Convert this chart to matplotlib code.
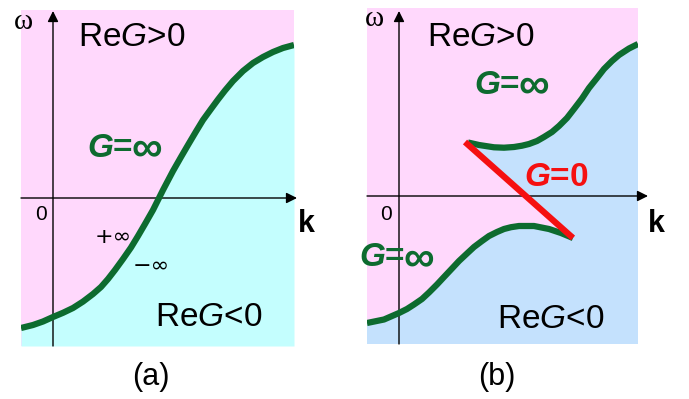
import numpy as np
import matplotlib
matplotlib.use("Agg")
import matplotlib.pyplot as plt

plt.rcParams["font.family"] = ["Liberation Sans", "DejaVu Sans"]
plt.rcParams["mathtext.fontset"] = "custom"
plt.rcParams["mathtext.rm"] = "Liberation Sans"
plt.rcParams["mathtext.it"] = "Liberation Sans:italic"
plt.rcParams["mathtext.bf"] = "Liberation Sans:bold"
plt.rcParams["mathtext.bfit"] = "Liberation Sans:italic:bold"

# ---- dispersion curves (k, omega) ----
# (a) single branch G = inf
k_a = [-0.32, -0.20, -0.10, 0.00, 0.10, 0.20, 0.30, 0.40, 0.48, 0.55, 0.62, 0.70,
       0.78, 0.85, 0.92, 1.00, 1.10, 1.20, 1.28, 1.35, 1.43, 1.50, 1.58, 1.65,
       1.72, 1.80, 1.90, 2.00, 2.10, 2.20, 2.30, 2.41]
w_a = [-1.30, -1.27, -1.235, -1.19, -1.148, -1.10, -1.036, -0.96, -0.89, -0.81,
       -0.72, -0.61, -0.495, -0.38, -0.26, -0.12, 0.08, 0.27, 0.41, 0.53, 0.665,
       0.78, 0.89, 0.985, 1.075, 1.17, 1.27, 1.35, 1.41, 1.46, 1.50, 1.53]

# (b) upper branch G = inf
k_b_up = [0.69, 0.80, 0.95, 1.05, 1.15, 1.23, 1.30, 1.38, 1.45, 1.53, 1.60,
          1.68, 1.75, 1.83, 1.90, 1.98, 2.05, 2.13, 2.20, 2.30, 2.39]
w_b_up = [0.535, 0.51, 0.487, 0.483, 0.49, 0.503, 0.52, 0.55, 0.59, 0.64, 0.70,
          0.78, 0.87, 0.975, 1.08, 1.18, 1.27, 1.35, 1.41, 1.475, 1.52]

# (b) lower branch G = inf
k_b_lo = [-0.32, -0.15, 0.00, 0.08, 0.15, 0.23, 0.30, 0.38, 0.45, 0.53, 0.60,
          0.68, 0.75, 0.83, 0.90, 0.98, 1.05, 1.12, 1.20, 1.35, 1.50, 1.62, 1.74]
w_b_lo = [-1.27, -1.235, -1.17, -1.13, -1.085, -1.03, -0.965, -0.885, -0.81,
          -0.725, -0.65, -0.575, -0.51, -0.45, -0.40, -0.36, -0.33, -0.312,
          -0.30, -0.30, -0.33, -0.37, -0.42]

# (b) G = 0 segment joining the two branches
k_zero = [0.66, 1.74]
w_zero = [0.54, -0.42]

PINK = "#ffd8fc"
CYAN = "#c4fefe"
BLUE = "#c4e1fd"
GREEN = "#0d6b2f"
RED = "#f51010"

XLIM_A = (-0.32, 2.41)
XLIM_B = (-0.32, 2.39)
YLIM = (-1.48, 1.88)

LINE = dict(lw=4.5, solid_capstyle="butt", solid_joinstyle="round")


def setup_axes(ax, xlim):
    ax.set_xlim(*xlim)
    ax.set_ylim(*YLIM)
    ax.set_facecolor(PINK)
    ax.set_xticks([])
    ax.set_yticks([])
    for sp in ax.spines.values():
        sp.set_visible(False)


def draw_axes_arrows(ax, xlim, k_tip, w_tip):
    arrow = dict(arrowstyle="-|>", lw=1.0, color="black", mutation_scale=16,
                 shrinkA=0, shrinkB=0)
    ax.annotate("", xy=(k_tip, 0), xytext=(xlim[0], 0), arrowprops=arrow,
                annotation_clip=False, zorder=2)
    ax.annotate("", xy=(0, w_tip), xytext=(0, YLIM[0]), arrowprops=arrow,
                annotation_clip=False, zorder=2)


def axis_labels(ax, k_pos, w_pos, zero_pos, tag, tag_pos):
    ax.text(*w_pos, "ω", fontsize=21, family="Liberation Serif",
            ha="center", va="center", clip_on=False)
    ax.text(*k_pos, "k", fontsize=22, fontweight="bold",
            ha="center", va="center", clip_on=False)
    ax.text(*zero_pos, "0", fontsize=15, ha="center", va="center")
    ax.text(*tag_pos, tag, fontsize=22, ha="center", va="center", clip_on=False)


def g_label(ax, x, y, rhs, color, big=False):
    """Bold 'G=' followed by the right-hand side (a wide infinity sign or 0)."""
    t = ax.text(x, y, r"$\mathbfit{G}$=", fontsize=24, fontweight="bold",
                color=color, ha="left", va="center", clip_on=False, zorder=5)
    ax.annotate(rhs, xy=(1.0, 0.5), xycoords=t,
                xytext=(-1.5, -1) if big else (0, 0),
                textcoords="offset points", fontsize=31 if big else 24,
                fontweight="bold", color=color, ha="left", va="center",
                zorder=5)


fig = plt.figure(figsize=(6.89, 3.99), dpi=100)
W, H = 689.0, 399.0

# ---------------- panel (a) ----------------
ax1 = fig.add_axes([21 / W, (H - 346) / H, 273 / W, 336 / H])
setup_axes(ax1, XLIM_A)
ax1.fill_between(k_a, w_a, YLIM[0], color=CYAN, lw=0, zorder=1)
draw_axes_arrows(ax1, XLIM_A, 2.44, 1.87)
ax1.plot(k_a, w_a, color=GREEN, zorder=3, **LINE)

ax1.text(0.25, 1.60, r"Re$G$>0", fontsize=24, ha="left", va="center")
ax1.text(1.02, -1.20, r"Re$G$<0", fontsize=24, ha="left", va="center")
g_label(ax1, 0.34, 0.50, "∞", GREEN, big=True)
ax1.text(0.42, -0.39, "+∞", fontsize=16, family="DejaVu Sans",
         ha="left", va="center")
ax1.text(0.80, -0.68, "−∞", fontsize=16, family="DejaVu Sans",
         ha="left", va="center")
axis_labels(ax1, (2.53, -0.26), (-0.30, 1.76), (-0.12, -0.16), "(a)", (0.98, -1.79))

# ---------------- panel (b) ----------------
ax2 = fig.add_axes([367 / W, (H - 344) / H, 271 / W, 336 / H])
setup_axes(ax2, XLIM_B)

# region with Re G < 0: below the lower branch, right of the G=0 segment
# and below the upper branch
poly_k = np.concatenate([k_b_lo, k_zero[::-1], k_b_up, [XLIM_B[1], XLIM_B[0]]])
poly_w = np.concatenate([w_b_lo, w_zero[::-1], w_b_up, [YLIM[0], YLIM[0]]])
ax2.fill(poly_k, poly_w, color=BLUE, lw=0, zorder=1)

draw_axes_arrows(ax2, XLIM_B, 2.49, 1.85)
ax2.plot(k_b_up, w_b_up, color=GREEN, zorder=3, **LINE)
ax2.plot(k_b_lo, w_b_lo, color=GREEN, zorder=3, **LINE)
ax2.plot(k_zero, w_zero, color=RED, zorder=4, **LINE)

ax2.text(0.28, 1.58, r"Re$G$>0", fontsize=24, ha="left", va="center")
ax2.text(0.98, -1.24, r"Re$G$<0", fontsize=24, ha="left", va="center")
g_label(ax2, 0.75, 1.11, "∞", GREEN, big=True)
g_label(ax2, -0.40, -0.62, "∞", GREEN, big=True)
g_label(ax2, 1.25, 0.18, "0", RED)
axis_labels(ax2, (2.57, -0.28), (-0.25, 1.77), (-0.13, -0.19), "(b)", (0.98, -1.81))

fig.savefig("out.png", dpi=100)
